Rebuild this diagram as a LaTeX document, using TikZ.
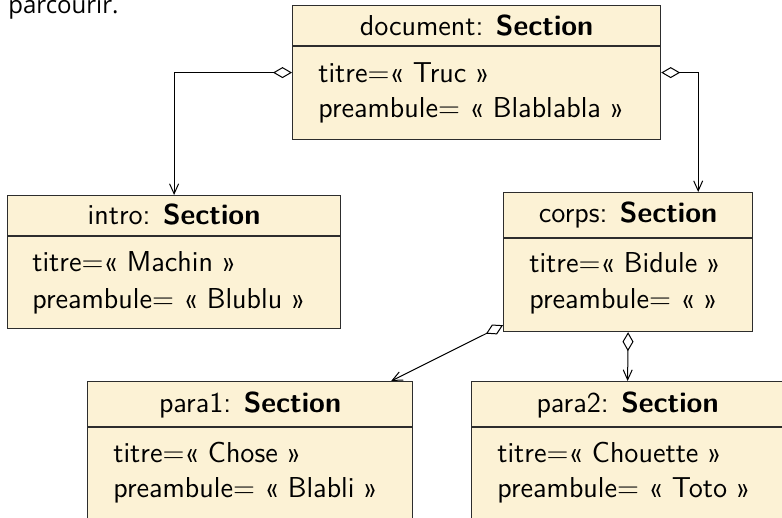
\documentclass[tikz,border=0pt]{standalone}
\usepackage{fontspec}
\newfontfamily\prosefont{Open Sans}
\usetikzlibrary{arrows.meta,calc}

\definecolor{objfill}{RGB}{252,242,213}
\definecolor{objline}{RGB}{45,45,45}

\tikzset{
  objbox/.style={draw=objline, fill=objfill, line width=0.6pt, rectangle,
                 inner sep=0pt, anchor=north west},
  divider/.style={draw=objline, line width=0.6pt},
  hdr/.style={anchor=base, inner sep=0pt, font=\fontsize{14.4}{16}\selectfont\sffamily},
  attr/.style={anchor=base west, inner sep=0pt, font=\fontsize{14.4}{16}\selectfont\sffamily},
  agg/.style={draw=black, line width=0.5pt,
              {Diamond[open, length=9.5pt, width=5.5pt]}-{Straight Barb[length=5pt, width=4.5pt]}}
}

\begin{document}
\begin{tikzpicture}[x=0.5pt, y=-0.5pt]
  \useasboundingbox (0,0) rectangle (782,518);
  \clip (0,0) rectangle (782,518);

  % tail of the preceding paragraph
  \node[anchor=base west, inner sep=0pt, font=\prosefont\fontsize{12}{14}\selectfont]
    (prose) at (8,14) {parcourir.};

  % object boxes
  \node[objbox, minimum width=184pt, minimum height=67pt]   (doc)   at (292,5)   {};
  \node[objbox, minimum width=166.5pt, minimum height=66.5pt] (intro) at (7,195)   {};
  \node[objbox, minimum width=124.5pt, minimum height=69.5pt] (corps) at (503,192) {};
  \node[objbox, minimum width=162.5pt, minimum height=69.5pt] (para1) at (87,381)  {};
  \node[objbox, minimum width=156pt, minimum height=69.5pt]   (para2) at (471,381) {};

  % dividers between name and attributes
  \draw[divider] ($(doc.north west)+(0,41)$)   -- ($(doc.north east)+(0,41)$);
  \draw[divider] ($(intro.north west)+(0,41)$) -- ($(intro.north east)+(0,41)$);
  \draw[divider] ($(corps.north west)+(0,46)$) -- ($(corps.north east)+(0,46)$);
  \draw[divider] ($(para1.north west)+(0,46)$) -- ($(para1.north east)+(0,46)$);
  \draw[divider] ($(para2.north west)+(0,46)$) -- ($(para2.north east)+(0,46)$);

  % names
  \node[hdr] (doc-n)   at ($(doc.north)+(0,31)$)   {document: \textbf{Section}};
  \node[hdr] (intro-n) at ($(intro.north)+(0,30)$) {intro: \textbf{Section}};
  \node[hdr] (corps-n) at ($(corps.north)+(0,31)$) {corps: \textbf{Section}};
  \node[hdr] (para1-n) at ($(para1.north)+(0,31)$) {para1: \textbf{Section}};
  \node[hdr] (para2-n) at ($(para2.north)+(0,31)$) {para2: \textbf{Section}};

  % attributes
  \node[attr] (doc-t)   at ($(doc.north west)+(26,78)$)    {titre=« Truc »};
  \node[attr] (doc-p)   at ($(doc.north west)+(26,113)$)   {preambule= « Blablabla »};
  \node[attr] (intro-t) at ($(intro.north west)+(25,77)$)  {titre=« Machin »};
  \node[attr] (intro-p) at ($(intro.north west)+(25,113)$) {preambule= « Blublu »};
  \node[attr] (corps-t) at ($(corps.north west)+(26,81)$)  {titre=« Bidule »};
  \node[attr] (corps-p) at ($(corps.north west)+(26,116)$) {preambule= « »};
  \node[attr] (para1-t) at ($(para1.north west)+(26,81)$)  {titre=« Chose »};
  \node[attr] (para1-p) at ($(para1.north west)+(26,116)$) {preambule= « Blabli »};
  \node[attr] (para2-t) at ($(para2.north west)+(26,81)$)  {titre=« Chouette »};
  \node[attr] (para2-p) at ($(para2.north west)+(26,116)$) {preambule= « Toto »};

  % connector ends
  \coordinate (corps-in)  at ($(corps.north east)+(-55,0)$);
  \coordinate (corps-out) at ($(corps.south west)+(0,-7)$);
  \coordinate (para1-in)  at ($(para1.north east)+(-22,0)$);

  % aggregations
  \draw[agg] (doc.west) -| (intro.north);
  \draw[agg] (doc.east) -| (corps-in);
  \draw[agg] (corps-out) -- (para1-in);
  \draw[agg] (corps.south) -- (para2.north);
\end{tikzpicture}
\end{document}
